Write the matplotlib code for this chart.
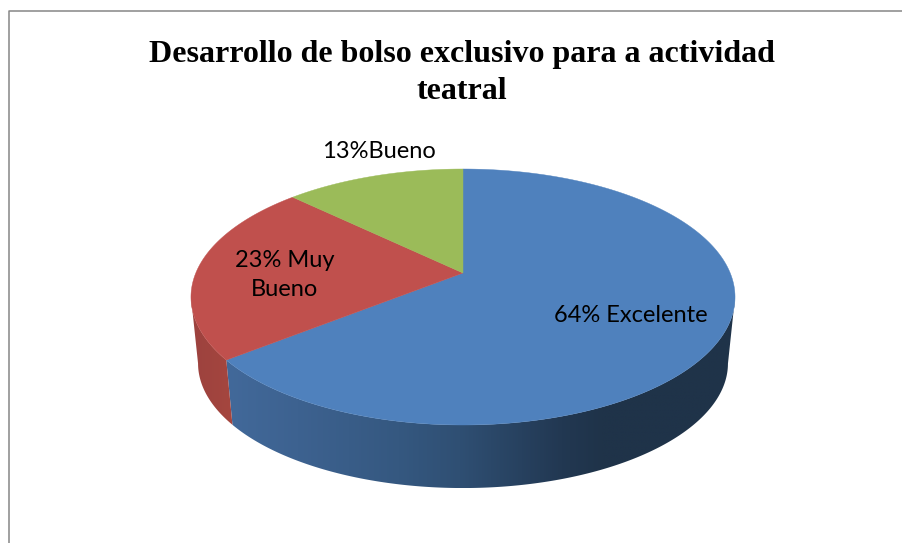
import matplotlib
matplotlib.use('Agg')
import matplotlib.pyplot as plt
import numpy as np
from matplotlib.colors import LinearSegmentedColormap
from matplotlib.patches import Polygon

# Slice data, clockwise from 12 o'clock (read from the slice edges, labels are rounded)
categories = ['Excelente', 'Muy Bueno', 'Bueno']
values = [64.3, 22.9, 12.8]
slice_labels = ['64% Excelente', '23% Muy\nBueno', '13%Bueno']
title = 'Desarrollo de bolso exclusivo para a actividad\nteatral'

top_colors = ['#4f81bd', '#c0504d', '#9bbb59']
wall_stops = [
    [(0.0, '#42699a'), (0.14, '#3d6290'), (0.34, '#355880'), (0.46, '#2f4f73'),
     (0.66, '#223852'), (0.74, '#1f3349'), (1.0, '#1f3349')],
    [(0.0, '#9c423e'), (1.0, '#a5463f')],
    [(0.0, '#7c964a'), (1.0, '#7c964a')],
]

# Pixel coordinates of the tilted pie (y measured down, flipped by the axis)
cx, cy = 463, 273
persp = 0.1875
rx, ry = 267.2, 123.5
wall_scale, wall_drop = 0.974, 67


def rim(angle, bottom=False):
    # angle in radians, clockwise from the top of the pie
    u, v = np.sin(angle), np.cos(angle)
    w = 1 + persp * v
    x, y = rx * u / w, ry * v / w
    if bottom:
        return cx + x * wall_scale, cy - y * wall_scale + wall_drop
    return cx + x, cy - y


fig = plt.figure(figsize=(9.03, 5.43), dpi=100)
ax = fig.add_axes([0, 0, 1, 1])
ax.axis('off')

# Chart frame, open on the right and at the bottom
ax.plot([9, 9, 903], [543, 11, 11], color='#868686', lw=1.1)

edges = np.cumsum([0] + values) / sum(values) * 2 * np.pi

# Side wall first, only the part in front of the tangent points is visible
for i in range(len(values)):
    angles = np.linspace(edges[i], edges[i + 1], 400)
    angles = angles[np.cos(angles) <= -persp]
    if len(angles) < 2:
        continue
    tx, ty = rim(angles)
    bx, by = rim(angles, bottom=True)
    pts = np.column_stack([np.r_[tx, bx[::-1]], np.r_[ty, by[::-1]]])
    cmap = LinearSegmentedColormap.from_list('wall%d' % i, wall_stops[i])
    x0, x1 = pts[:, 0].min(), pts[:, 0].max()
    img = ax.imshow(np.linspace(0, 1, 512)[None, :], cmap=cmap, vmin=0, vmax=1,
                    extent=[x0, x1, pts[:, 1].max(), pts[:, 1].min()],
                    aspect='auto', interpolation='bilinear')
    clip = Polygon(pts, closed=True, transform=ax.transData)
    img.set_clip_path(clip)

# Top surface
for i in range(len(values)):
    angles = np.linspace(edges[i], edges[i + 1], 300)
    xs, ys = rim(angles)
    ax.fill(np.r_[cx, xs], np.r_[cy, ys], color=top_colors[i], lw=0.3)

ax.set_xlim(0, 903)
ax.set_ylim(543, 0)

label_pos = [(631, 315), (285, 275), (379, 151)]
for text, (x, y) in zip(slice_labels, label_pos):
    ax.text(x, y, text, ha='center', va='center', fontsize=17, family='Lato',
            color='black', linespacing=1.45)

ax.text(462, 73, title, ha='center', va='center', fontsize=23,
        family='Liberation Serif', weight='bold', color='black', linespacing=1.34)

fig.savefig('out.png', dpi=100)
